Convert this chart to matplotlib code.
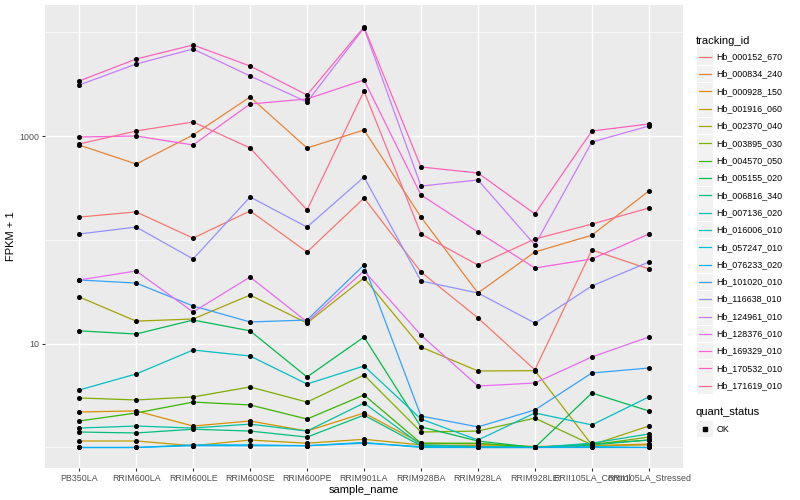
import matplotlib
matplotlib.use("Agg")
import matplotlib.pyplot as plt
from matplotlib.patches import Rectangle
from matplotlib.lines import Line2D

plt.rcParams['font.family'] = ['Liberation Sans', 'DejaVu Sans']

samples = ["PB350LA", "RRIM600LA", "RRIM600LE", "RRIM600SE", "RRIM600PE", "RRIM901LA",
           "RRIM928BA", "RRIM928LA", "RRIM928LE", "RRII105LA_Control", "RRII105LA_Stressed"]

# FPKM + 1 per sample
hb_000152_670 = [166, 186, 104, 190, 76.5, 253, 49.1, 17.7, 5.6, 80, 52.5]
hb_000834_240 = [821, 538, 1025, 2382, 768, 1145, 166, 30.8, 76.5, 111, 296]
hb_000928_150 = [2.20, 2.25, 1.61, 1.80, 1.44, 2.15, 1.10, 1.08, 1.02, 1.04, 1.08]
hb_001916_060 = [1.155, 1.155, 1.04, 1.18, 1.10, 1.20, 1.06, 1.04, 1.02, 1.04, 1.06]
hb_002370_040 = [28.2, 16.5, 17.3, 29.4, 15.8, 43.0, 9.29, 5.46, 5.5, 1.06, 1.61]
hb_003895_030 = [3.0, 2.87, 3.07, 3.83, 2.74, 4.99, 1.41, 1.44, 1.92, 1.06, 1.26]
hb_004570_050 = [1.80, 2.15, 2.74, 2.57, 1.88, 3.21, 1.10, 1.10, 1.0, 1.08, 1.18]
hb_005155_020 = [13.3, 12.4, 16.9, 13.3, 4.78, 11.6, 1.58, 1.155, 1.0, 3.35, 2.25]
hb_006816_340 = [1.41, 1.38, 1.50, 1.44, 1.26, 2.05, 1.04, 1.02, 1.0, 1.06, 1.18]
hb_007136_020 = [1.54, 1.61, 1.54, 1.68, 1.44, 2.68, 1.06, 1.02, 1.0, 1.10, 1.35]
hb_016006_010 = [3.58, 5.11, 8.69, 7.61, 4.09, 6.10, 1.88, 1.18, 2.15, 1.65, 3.07]
hb_057247_010 = [1.0, 1.0, 1.06, 1.06, 1.04, 1.12, 1.0, 1.0, 1.0, 1.0, 1.0]
hb_076233_020 = [1.0, 1.0, 1.04, 1.04, 1.04, 1.10, 1.02, 1.0, 1.0, 1.02, 1.0]
hb_101020_010 = [41.1, 38.4, 23.1, 16.2, 16.9, 57.3, 2.01, 1.58, 2.30, 5.22, 5.83]
hb_116638_010 = [114, 133, 65.5, 259, 133, 403, 40.2, 30.8, 15.8, 36, 61.2]
hb_124961_010 = [3105, 4950, 6905, 3793, 2131, 11000, 330, 378, 89.3, 877, 1250]
hb_128376_010 = [41.1, 50.2, 20.2, 43.9, 16.2, 50.2, 12.1, 3.91, 4.18, 7.45, 11.6]
hb_169329_010 = [980, 1002, 821, 2038, 2278, 3470, 271, 119, 53.6, 65.5, 114]
hb_170532_010 = [3396, 5530, 7550, 4735, 2489, 11250, 504, 441, 178, 1120, 1308]
hb_171619_010 = [839, 1120, 1368, 768, 194, 2719, 114, 57.3, 102, 142, 203]

tracking_ids = ["Hb_000152_670", "Hb_000834_240", "Hb_000928_150", "Hb_001916_060",
                "Hb_002370_040", "Hb_003895_030", "Hb_004570_050", "Hb_005155_020",
                "Hb_006816_340", "Hb_007136_020", "Hb_016006_010", "Hb_057247_010",
                "Hb_076233_020", "Hb_101020_010", "Hb_116638_010", "Hb_124961_010",
                "Hb_128376_010", "Hb_169329_010", "Hb_170532_010", "Hb_171619_010"]
series = [hb_000152_670, hb_000834_240, hb_000928_150, hb_001916_060, hb_002370_040,
          hb_003895_030, hb_004570_050, hb_005155_020, hb_006816_340, hb_007136_020,
          hb_016006_010, hb_057247_010, hb_076233_020, hb_101020_010, hb_116638_010,
          hb_124961_010, hb_128376_010, hb_169329_010, hb_170532_010, hb_171619_010]

# ggplot default hue palette for 20 levels
colors = ["#F8766D", "#EA8331", "#D89000", "#C09B00", "#A3A500", "#7CAE00", "#39B600",
          "#00BB4E", "#00BF7D", "#00C1A3", "#00BFC4", "#00BAE0", "#00B0F6", "#35A2FF",
          "#9590FF", "#C77CFF", "#E76BF3", "#FA62DB", "#FF62BC", "#FF6C91"]

W, H = 800, 500
fig = plt.figure(figsize=(8, 5), dpi=100)
ax = fig.add_axes([45 / W, 32 / H, 638 / W, 463 / H])
ax.set_facecolor("#EBEBEB")

x = list(range(len(samples)))
for vals, col in zip(series, colors):
    ax.plot(x, vals, color=col, lw=0.9, zorder=3)
for vals in series:
    ax.plot(x, vals, ls="none", marker="o", ms=2.6, color="black", zorder=4)

ax.set_yscale("log")
ax.set_ylim(10 ** -0.1975, 10 ** 4.263)
ax.set_xlim(-0.6, len(samples) - 0.4)

ax.set_yticks([10, 1000])
ax.set_yticklabels(["10", "1000"])
ax.set_yticks([1, 100, 10000], minor=True)
ax.yaxis.set_minor_formatter(plt.NullFormatter())
ax.set_xticks(x)
ax.set_xticklabels(samples)

ax.grid(True, which="major", color="white", lw=1.0, zorder=1)
ax.grid(True, which="minor", axis="y", color="white", lw=0.5, zorder=1)
ax.tick_params(which="major", length=2.5, width=0.8, color="#333333",
               labelsize=6.4, labelcolor="#4D4D4D", pad=1.5)
ax.tick_params(which="minor", length=0)
for s in ax.spines.values():
    s.set_visible(False)

ax.set_xlabel("sample_name", fontsize=8, labelpad=2)
ax.set_ylabel("FPKM + 1", fontsize=8, labelpad=2.5)

# legend drawn in pixel space to mimic ggplot
def fx(px):
    return px / W

def fy(py):
    return 1 - py / H

fig.text(fx(696), fy(41), "tracking_id", fontsize=8, va="center", ha="left")
y0, step = 56.7, 17.32
for i, (name, col) in enumerate(zip(tracking_ids, colors)):
    yc = y0 + i * step
    fig.patches.append(Rectangle((fx(697), fy(yc + 8.3)), 16 / W, 16.6 / H,
                                 transform=fig.transFigure, facecolor="#F2F2F2",
                                 edgecolor="none"))
    fig.lines.append(Line2D([fx(699), fx(711)], [fy(yc), fy(yc)], color=col, lw=0.9,
                            transform=fig.transFigure))
    fig.text(fx(716.5), fy(yc), name, fontsize=6.4, va="center", ha="left")

fig.text(fx(696), fy(412), "quant_status", fontsize=8, va="center", ha="left")
fig.patches.append(Rectangle((fx(697), fy(437.3)), 16 / W, 16.6 / H,
                             transform=fig.transFigure, facecolor="#F2F2F2",
                             edgecolor="none"))
fig.lines.append(Line2D([fx(705)], [fy(429)], ls="none", marker="s", ms=2.2,
                        color="black", transform=fig.transFigure))
fig.text(fx(716.5), fy(429), "OK", fontsize=6.4, va="center", ha="left")

fig.savefig("out.png", dpi=100)
